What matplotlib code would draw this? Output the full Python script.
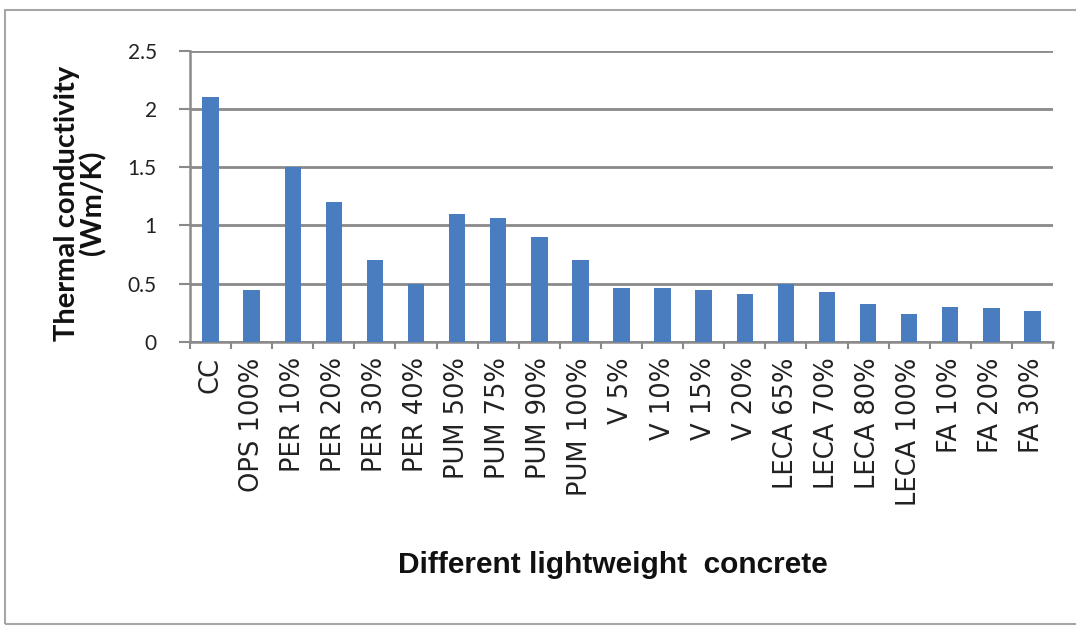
import matplotlib
matplotlib.use("Agg")
import matplotlib.pyplot as plt
from matplotlib.patches import Rectangle
import numpy as np

categories = ["CC", "OPS 100%", "PER 10%", "PER 20%", "PER 30%", "PER 40%",
              "PUM 50%", "PUM 75%", "PUM 90%", "PUM 100%",
              "V 5%", "V 10%", "V 15%", "V 20%",
              "LECA 65%", "LECA 70%", "LECA 80%", "LECA 100%",
              "FA 10%", "FA 20%", "FA 30%"]
conductivity = [2.10, 0.45, 1.50, 1.20, 0.70, 0.50,
                1.10, 1.06, 0.90, 0.70,
                0.46, 0.46, 0.45, 0.41,
                0.50, 0.43, 0.33, 0.24,
                0.30, 0.29, 0.27]
y_ticks = [0, 0.5, 1, 1.5, 2, 2.5]
y_tick_labels = ["0", "0.5", "1", "1.5", "2", "2.5"]

bar_color = "#4a7dc0"
grid_color = "#8a8a8a"

fig = plt.figure(figsize=(10.76, 6.26), dpi=100)
fig.patch.set_facecolor("white")

# outer chart frame
fig.patches.append(Rectangle((5 / 1076, 2 / 626), 1.2, 614 / 626,
                             transform=fig.transFigure, fill=False,
                             edgecolor="#a6a6a6", linewidth=1.5))

ax = fig.add_axes([190 / 1076, 1 - 342 / 626, (1053 - 190) / 1076, (342 - 50.7) / 626])

x = np.arange(len(categories))
ax.bar(x, conductivity, width=0.4, color=bar_color, zorder=3)

ax.set_xlim(-0.5, len(categories) - 0.5)
ax.set_ylim(0, 2.5)
ax.set_yticks(y_ticks)
ax.set_yticklabels(y_tick_labels, fontsize=15, family=["Lato", "DejaVu Sans"],
                   color="#222222")
ax.yaxis.grid(True, color=grid_color, linewidth=2, zorder=0)
ax.set_axisbelow(True)

ax.set_xticks(x)
ax.set_xticklabels(categories, rotation=90, fontsize=18.5,
                   family=["DejaVu Sans"], color="#222222")
ax.tick_params(axis="x", length=0, pad=11)
ax.set_xticks(np.arange(len(categories) + 1) - 0.5, minor=True)
ax.tick_params(axis="x", which="minor", length=5, width=1.5, color=grid_color, direction="out")
ax.tick_params(axis="y", length=8, width=1.5, color=grid_color, pad=16)

for side in ("top", "right"):
    ax.spines[side].set_visible(False)
for side in ("left", "bottom"):
    ax.spines[side].set_color(grid_color)
    ax.spines[side].set_linewidth(1.8)

fig.text(80 / 1076, 1 - 203 / 626, "Thermal conductivity\n(Wm/K)", rotation=90,
         ha="center", va="center", fontsize=21, fontweight="bold",
         family=["Lato", "DejaVu Sans"], linespacing=0.95, color="#111111")
fig.text(613 / 1076, 1 - 565 / 626, "Different lightweight  concrete",
         ha="center", va="center", fontsize=21.5, fontweight="bold",
         family=["Liberation Sans Narrow", "Liberation Sans", "DejaVu Sans"],
         color="#111111")

fig.savefig("out.png", dpi=100)
